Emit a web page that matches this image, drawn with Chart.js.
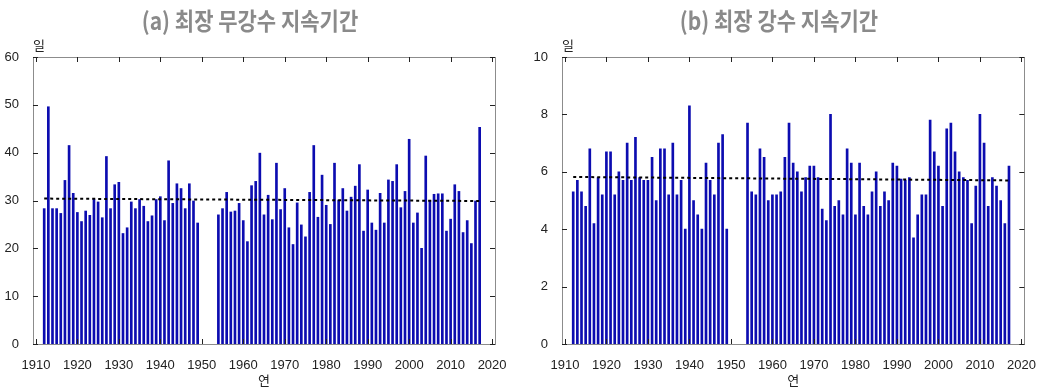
<!DOCTYPE html>
<html>
<head>
<meta charset="utf-8">
<script src="https://cdn.jsdelivr.net/npm/chart.js@4/dist/chart.umd.min.js"></script>
<style>
  html, body { margin: 0; padding: 0; background: #fff; }
  #wrap { position: relative; width: 1042px; height: 389px; }
  canvas { position: absolute; top: 0; }
  #ca { left: 0; }
  #cb { left: 521px; }
</style>
</head>
<body>
<div id="wrap">
  <canvas id="ca" width="521" height="389"></canvas>
  <canvas id="cb" width="521" height="389"></canvas>
</div>
<script>
// ---- data ----
const years = [1912,1913,1914,1915,1916,1917,1918,1919,1920,1921,1922,1923,1924,1925,1926,1927,1928,1929,1930,1931,1932,1933,1934,1935,1936,1937,1938,1939,1940,1941,1942,1943,1944,1945,1946,1947,1948,1949,
  1954,1955,1956,1957,1958,1959,1960,1961,1962,1963,1964,1965,1966,1967,1968,1969,1970,1971,1972,1973,1974,1975,1976,1977,1978,1979,1980,1981,1982,1983,1984,1985,1986,1987,1988,1989,1990,1991,1992,1993,1994,1995,1996,1997,1998,1999,2000,2001,2002,2003,2004,2005,2006,2007,2008,2009,2010,2011,2012,2013,2014,2015,2016,2017];

// (a) longest dry spell (days)
const dryDays = [28.3,49.6,28.3,28.3,27.3,34.2,41.5,31.5,27.5,25.6,27.8,26.9,30.3,29.7,26.4,39.2,28.3,33.3,33.8,23.1,24.3,29.7,28.3,30.2,28.8,25.6,26.8,30.2,30.8,25.8,38.3,29.4,33.5,32.5,28.3,33.5,29.9,25.3,
  27.0,28.3,31.7,27.6,27.8,29.4,25.8,21.4,33.1,34.0,39.9,27.0,31.1,26.0,37.8,28.1,32.5,24.3,20.8,29.5,24.9,22.4,31.7,41.5,26.5,35.3,29.0,25.0,37.8,30.1,32.5,27.8,30.7,33.0,37.5,23.6,32.2,25.3,23.8,31.5,25.3,34.3,34.0,37.5,28.5,31.9,42.8,25.3,27.4,20.0,39.3,30.0,31.3,31.4,31.4,23.6,26.1,33.3,31.9,23.3,25.8,21.0,29.9,45.3];

// (b) longest wet spell (days)
const wetDays = [5.3,5.7,5.3,4.8,6.8,4.2,5.8,5.2,6.7,6.7,5.2,6.0,5.7,7.0,5.7,7.2,5.8,5.7,5.7,6.5,5.0,6.8,6.8,5.2,7.0,5.2,5.7,4.0,8.3,5.0,4.5,4.0,6.3,5.7,5.2,7.0,7.3,4.0,
  7.7,5.3,5.2,6.8,6.5,5.0,5.2,5.2,5.3,6.5,7.7,6.3,6.0,5.3,5.8,6.2,6.2,5.8,4.7,4.3,8.0,4.8,5.0,4.5,6.8,6.3,4.5,6.3,4.8,4.5,5.3,6.0,4.8,5.3,5.0,6.3,6.2,5.75,5.7,5.8,3.7,4.5,5.2,5.2,7.8,6.7,6.2,4.8,7.5,7.7,6.7,6.0,5.8,5.7,4.2,5.5,8.0,7.0,4.8,5.8,5.5,5.0,4.2,6.2];

// linear trend end points
const trendYears = [1912, 2017];
const dryTrend = [30.4, 29.9];
const wetTrend = [5.82, 5.70];

// tick labels
const yearTicks = [1910,1920,1930,1940,1950,1960,1970,1980,1990,2000,2010,2020];
const dryTicks = [0,10,20,30,40,50,60];
const wetTicks = [0,2,4,6,8,10];

const titles = ['(a) 최장 무강수 지속기간', '(b) 최장 강수 지속기간'];
const yUnit = '일';
const xUnit = '연';

// ---- drawing ----
function makePanel(id, values, trend, yTicks, opt) {
  const frame = {
    id: 'frame',
    afterDraw(chart) {
      const ctx = chart.ctx, a = chart.chartArea;
      const xs = chart.scales.x, ys = chart.scales.y;
      ctx.save();
      ctx.strokeStyle = '#8c8c8c';
      ctx.lineWidth = 1;
      ctx.strokeRect(Math.round(a.left) + 0.5, Math.round(a.top) + 0.5,
                     Math.round(a.right - a.left), Math.round(a.bottom - a.top));
      ctx.strokeStyle = '#222';
      ctx.beginPath();
      yTicks.forEach(v => {
        const y = Math.round(ys.getPixelForValue(v)) + 0.5;
        ctx.moveTo(a.left, y); ctx.lineTo(a.left + 5, y);
        ctx.moveTo(a.right, y); ctx.lineTo(a.right - 5, y);
      });
      yearTicks.forEach(v => {
        const x = Math.round(xs.getPixelForValue(v)) + 0.5;
        ctx.moveTo(x, a.bottom); ctx.lineTo(x, a.bottom - 5);
        ctx.moveTo(x, a.top); ctx.lineTo(x, a.top + 5);
      });
      ctx.stroke();
      // title (slightly tall, like the reference)
      ctx.fillStyle = '#8a8a8a';
      ctx.font = 'bold 21px "Noto Sans CJK KR"';
      ctx.textAlign = 'center';
      ctx.textBaseline = 'middle';
      ctx.save();
      ctx.translate(opt.titleX, 21);
      ctx.scale(1, 1.15);
      ctx.fillText(opt.title, 0, 0);
      ctx.restore();
      ctx.fillStyle = '#222';
      ctx.font = '13px "Noto Sans CJK KR"';
      ctx.fillText(yUnit, a.left + 6, 45);
      ctx.fillText(xUnit, (a.left + a.right) / 2, 380);
      ctx.restore();
    }
  };
  return new Chart(document.getElementById(id), {
    type: 'bar',
    data: {
      datasets: [
        {
          type: 'line',
          data: trendYears.map((x, i) => ({ x, y: trend[i] })),
          borderColor: '#000',
          borderWidth: 2,
          borderDash: [3, 3],
          pointRadius: 0,
          fill: false,
          order: 0
        },
        {
          data: years.map((x, i) => ({ x, y: values[i] })),
          backgroundColor: '#0c0cb0',
          borderWidth: 0,
          barThickness: 2,
          order: 1
        }
      ]
    },
    options: {
      responsive: false,
      animation: false,
      devicePixelRatio: 1,
      layout: { padding: { top: 57, right: opt.rightPad, left: 0, bottom: 0 } },
      plugins: { legend: { display: false }, tooltip: { enabled: false }, title: { display: false } },
      scales: {
        x: {
          type: 'linear',
          offset: false,
          min: 1909.3, max: 2020.7,
          grid: { display: false, offset: false },
          border: { display: false },
          afterBuildTicks: s => { s.ticks = yearTicks.map(v => ({ value: v })); },
          afterFit: s => { s.height = 45; },
          ticks: {
            autoSkip: false, maxRotation: 0,
            color: '#222', padding: 6,
            font: { family: '"Liberation Sans Narrow", "Liberation Sans", sans-serif', size: 13 },
            callback: v => String(v)
          }
        },
        y: {
          min: 0, max: yTicks[yTicks.length - 1],
          grid: { display: false },
          border: { display: false },
          afterBuildTicks: s => { s.ticks = yTicks.map(v => ({ value: v })); },
          afterFit: s => { s.width = opt.leftW; },
          ticks: {
            color: '#222', padding: 6,
            font: { family: '"Liberation Sans Narrow", "Liberation Sans", sans-serif', size: 13 }
          }
        }
      }
    },
    plugins: [frame]
  });
}

makePanel('ca', dryDays, dryTrend, dryTicks, { leftW: 33, rightPad: 26, title: titles[0], titleX: 250 });
makePanel('cb', wetDays, wetTrend, wetTicks, { leftW: 41, rightPad: 17, title: titles[1], titleX: 258 });
</script>
</body>
</html>
